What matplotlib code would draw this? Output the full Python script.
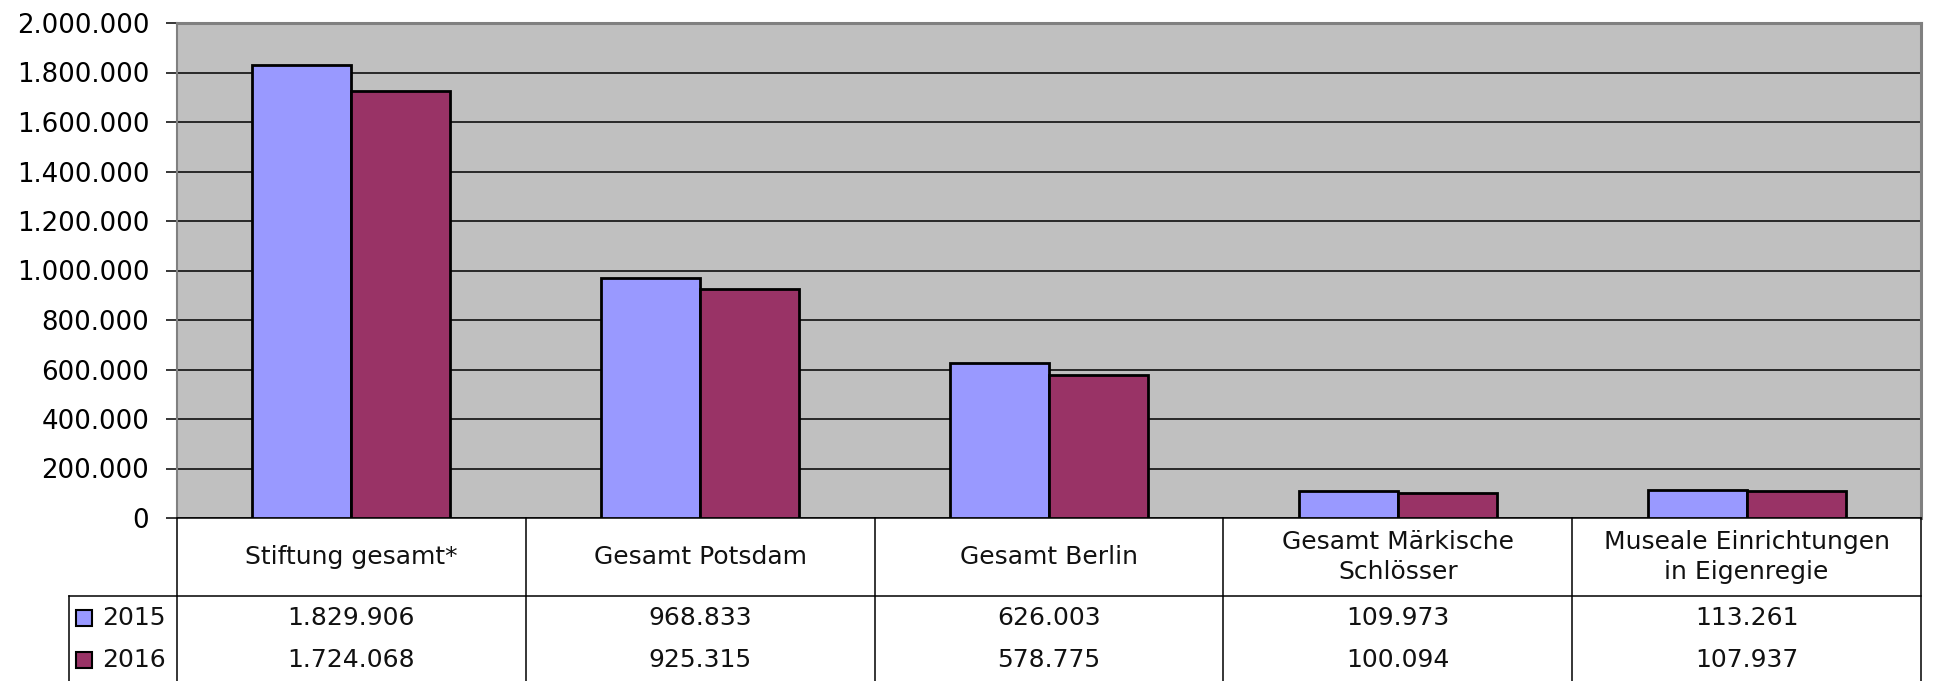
import matplotlib
matplotlib.use("Agg")
import matplotlib.pyplot as plt
from matplotlib.ticker import FuncFormatter, MultipleLocator

categories = ["Stiftung gesamt*", "Gesamt Potsdam", "Gesamt Berlin",
              "Gesamt Märkische\nSchlösser", "Museale Einrichtungen\nin Eigenregie"]
series_names = ["2015", "2016"]
values_2015 = [1829906, 968833, 626003, 109973, 113261]
values_2016 = [1724068, 925315, 578775, 100094, 107937]
colors = ["#9999FF", "#993366"]

def de_fmt(v):
    return f"{int(round(v)):,}".replace(",", ".")

W, H, DPI = 1934, 681, 100
fig = plt.figure(figsize=(W / DPI, H / DPI), dpi=DPI)
fig.patch.set_facecolor("white")
plt.rcParams['font.family'] = ['DejaVu Sans']

# pixel geometry
pl, pr, pt, pb = 177, 1921, 23, 518
ax = fig.add_axes([pl / W, (H - pb) / H, (pr - pl) / W, (pb - pt) / H])
ax.set_facecolor("#C0C0C0")

n = len(categories)
x = list(range(n))
bw = 0.284
ax.bar([i - bw / 2 for i in x], values_2015, width=bw, color=colors[0],
       edgecolor="black", linewidth=2.0, zorder=3)
ax.bar([i + bw / 2 for i in x], values_2016, width=bw, color=colors[1],
       edgecolor="black", linewidth=2.0, zorder=3)

ax.set_xlim(-0.5, n - 0.5)
ax.set_ylim(0, 2000000)
ax.yaxis.set_major_locator(MultipleLocator(200000))
ax.yaxis.set_major_formatter(FuncFormatter(lambda v, p: de_fmt(v)))
ax.grid(axis="y", color="black", linewidth=1.1, zorder=1)
ax.set_axisbelow(True)
ax.set_xticks([])
ax.tick_params(axis="y", direction="out", length=8, width=1.1, color="black",
               labelsize=18.7, pad=12)
for s in ["top", "right", "left"]:
    ax.spines[s].set_color("#808080")
ax.spines["top"].set_linewidth(2.2)
ax.spines["right"].set_linewidth(2.2)
ax.spines["left"].set_linewidth(1.5)
ax.spines["bottom"].set_color("black")
ax.spines["bottom"].set_linewidth(1.1)

# data table below
tl = 69
cat_px = (pr - pl) / n
left_cat = (tl - pl) / cat_px - 0.5
tax = fig.add_axes([tl / W, 0, (pr - tl) / W, (H - pb) / H])
tax.set_xlim(left_cat, n - 0.5)
tax.set_ylim(H - pb, 0)
tax.axis("off")

lw = 1.1
hdr_bottom = 596 - pb
row_y = [618 - pb, 660 - pb]
for b in [i - 0.5 for i in range(n + 1)]:
    tax.plot([b, b], [0, H - pb], color="black", lw=lw, clip_on=False)
tax.plot([left_cat, n - 0.5], [hdr_bottom, hdr_bottom], color="black", lw=lw, clip_on=False)
tax.plot([left_cat, left_cat], [hdr_bottom, H - pb], color="black", lw=lw, clip_on=False)

fs = 18
for i, c in enumerate(categories):
    tax.text(i, hdr_bottom / 2, c, ha="center", va="center", fontsize=fs,
             linespacing=1.3, color="#111111")
for r, (vals, col, name) in enumerate(zip([values_2015, values_2016], colors, series_names)):
    for i, v in enumerate(vals):
        tax.text(i, row_y[r], de_fmt(v), ha="center", va="center", fontsize=fs, color="#111111")
    mx = (84.5 - pl) / cat_px - 0.5
    tax.plot([mx], [row_y[r]], marker="s", markersize=12, markerfacecolor=col,
             markeredgecolor="black", markeredgewidth=1.5, clip_on=False)
    tx = (102 - pl) / cat_px - 0.5
    tax.text(tx, row_y[r], name, ha="left", va="center", fontsize=fs, color="#111111")

fig.savefig("out.png", dpi=DPI)
